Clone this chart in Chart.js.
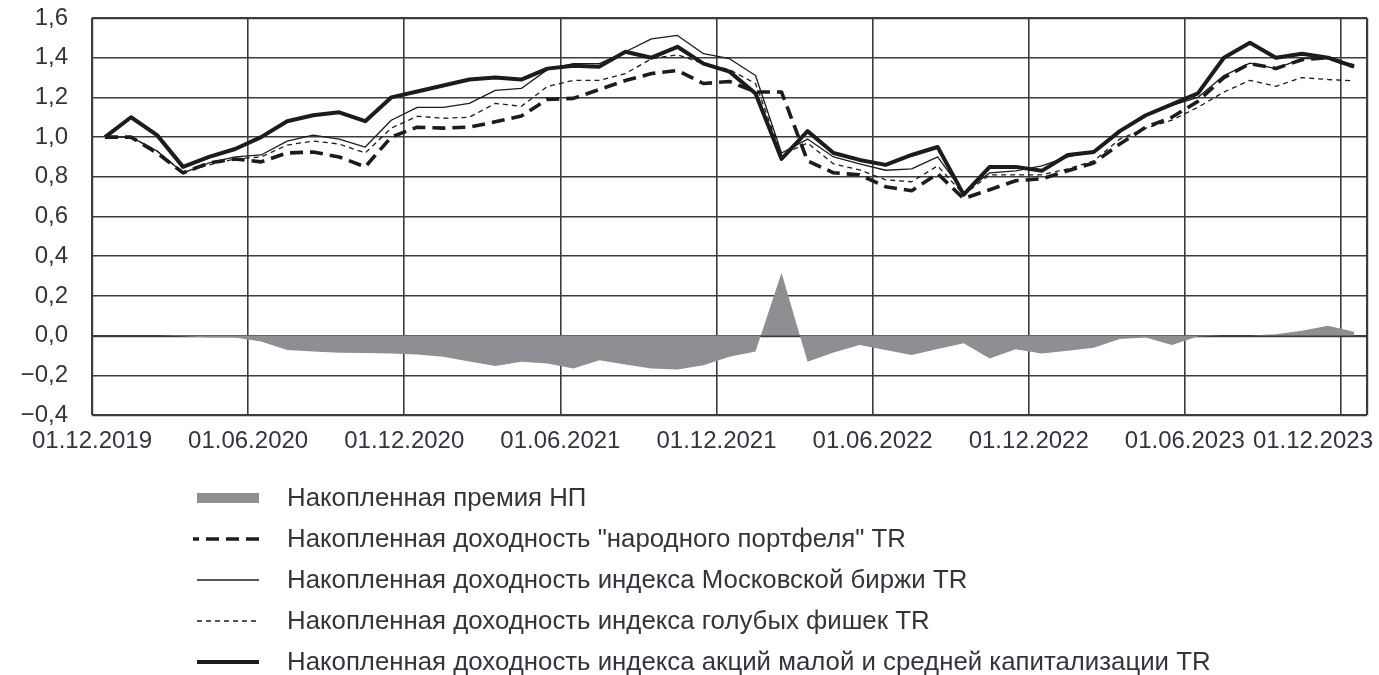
<!DOCTYPE html>
<html lang="ru">
<head>
    <meta charset="UTF-8">
    <title>Накопленная доходность</title>
    <style>
        body {
            margin: 0;
            background: #fff;
            font-family: "Liberation Sans", Arial, sans-serif;
            color: #34343e;
        }

        #wrap {
            position: relative;
            width: 1379px;
            height: 675px;
        }

        #chart {
            position: absolute;
            left: 0;
            top: 0;
        }

        .legend {
            position: absolute;
            left: 193px;
            top: 477px;
        }

        .legend .row {
            display: flex;
            align-items: center;
            height: 41px;
        }

        .legend canvas {
            width: 66px;
            height: 16px;
            margin-right: 28px;
        }

        .legend span {
            font-size: 25.8px;
            white-space: nowrap;
        }
    </style>
</head>
<body>
    <div id="wrap">
        <canvas id="chart" width="1379" height="470"></canvas>
        <div class="legend" id="legend"></div>
    </div>

    <script src="https://cdn.jsdelivr.net/npm/chart.js"></script>
    <script>
        // ticks every 6 months, points are monthly (mid-month)
        const tickLabels = ['01.12.2019', '01.06.2020', '01.12.2020', '01.06.2021', '01.12.2021',
                            '01.06.2022', '01.12.2022', '01.06.2023', '01.12.2023'];

        const premium = [0, 0, 0, -0.003, -0.01, -0.01, -0.03, -0.073, -0.08, -0.086,
                         -0.088, -0.09, -0.095, -0.107, -0.13, -0.153, -0.132, -0.14, -0.166, -0.124,
                         -0.146, -0.166, -0.171, -0.149, -0.107, -0.08, 0.317, -0.132, -0.085, -0.047,
                         -0.073, -0.098, -0.068, -0.039, -0.115, -0.069, -0.09, -0.076, -0.061, -0.017,
                         -0.01, -0.047, -0.005, 0, 0, 0.007, 0.024, 0.05, 0.02];

        const narodny = [1.00, 1.00, 0.92, 0.82, 0.87, 0.89, 0.875, 0.92, 0.925, 0.90,
                         0.85, 1.00, 1.05, 1.045, 1.05, 1.077, 1.106, 1.19, 1.195, 1.24,
                         1.285, 1.32, 1.336, 1.27, 1.28, 1.227, 1.227, 0.88, 0.82, 0.81,
                         0.75, 0.73, 0.816, 0.69, 0.735, 0.78, 0.79, 0.83, 0.87, 0.965,
                         1.05, 1.10, 1.18, 1.30, 1.37, 1.346, 1.39, 1.40, 1.355];

        const moex = [1.00, 1.00, 0.93, 0.82, 0.87, 0.90, 0.91, 0.98, 1.01, 0.99,
                      0.95, 1.085, 1.15, 1.15, 1.17, 1.235, 1.245, 1.34, 1.37, 1.37,
                      1.43, 1.495, 1.512, 1.42, 1.395, 1.31, 0.92, 0.99, 0.90, 0.865,
                      0.833, 0.84, 0.90, 0.72, 0.82, 0.83, 0.855, 0.90, 0.93, 1.03,
                      1.11, 1.16, 1.20, 1.31, 1.373, 1.345, 1.395, 1.395, 1.365];

        const blueChips = [1.00, 1.00, 0.93, 0.82, 0.86, 0.89, 0.90, 0.96, 0.98, 0.965,
                           0.92, 1.045, 1.105, 1.095, 1.10, 1.17, 1.155, 1.255, 1.286, 1.286,
                           1.32, 1.395, 1.415, 1.37, 1.34, 1.27, 0.91, 0.97, 0.865, 0.835,
                           0.785, 0.775, 0.855, 0.71, 0.81, 0.81, 0.81, 0.84, 0.88, 0.99,
                           1.045, 1.085, 1.15, 1.227, 1.286, 1.256, 1.30, 1.29, 1.283];

        const smid = [1.00, 1.10, 1.01, 0.85, 0.90, 0.94, 1.00, 1.08, 1.11, 1.125,
                      1.08, 1.20, 1.23, 1.26, 1.29, 1.30, 1.29, 1.345, 1.36, 1.355,
                      1.43, 1.40, 1.455, 1.37, 1.33, 1.22, 0.89, 1.03, 0.92, 0.885,
                      0.86, 0.91, 0.95, 0.71, 0.85, 0.85, 0.83, 0.91, 0.925, 1.03,
                      1.11, 1.165, 1.22, 1.40, 1.475, 1.40, 1.42, 1.40, 1.355];

        const seriesNames = [
            'Накопленная премия НП',
            'Накопленная доходность "народного портфеля" TR',
            'Накопленная доходность индекса Московской биржи TR',
            'Накопленная доходность индекса голубых фишек TR',
            'Накопленная доходность индекса акций малой и средней капитализации TR'
        ];

        const textColor = '#34343e';
        const lineColor = '#1c1c1c';
        const fillColor = '#8f8f93';
        const fontFamily = '"Liberation Sans", Arial, sans-serif';

        const toPoints = arr => arr.map((v, i) => ({ x: i + 0.5, y: v }));

        // style of each series, shared by chart and legend
        const styles = [
            { fill: true },
            { width: 3.6, dash: [13, 7] },
            { width: 1.3, dash: [] },
            { width: 1.3, dash: [5, 4] },
            { width: 4, dash: [] }
        ];

        const seriesData = [premium, narodny, moex, blueChips, smid];

        const datasets = seriesData.map((arr, k) => {
            const s = styles[k];
            if (s.fill) {
                return {
                    label: seriesNames[k],
                    data: toPoints(arr),
                    fill: 'origin',
                    backgroundColor: fillColor,
                    borderColor: fillColor,
                    borderWidth: 0,
                    pointRadius: 0,
                    order: 10
                };
            }
            return {
                label: seriesNames[k],
                data: toPoints(arr),
                fill: false,
                borderColor: lineColor,
                borderWidth: s.width,
                borderDash: s.dash,
                borderJoinStyle: 'round',
                pointRadius: 0,
                tension: 0,
                order: 5 - k
            };
        });

        // x labels drawn by hand so the last one is pulled inside the canvas
        const xLabels = {
            id: 'xLabels',
            afterDraw(chart) {
                const { ctx, chartArea } = chart;
                const x = chart.scales.x;
                ctx.save();
                ctx.font = '24px ' + fontFamily;
                ctx.fillStyle = textColor;
                ctx.textBaseline = 'middle';
                ctx.textAlign = 'left';
                tickLabels.forEach((t, k) => {
                    const px = x.getPixelForValue(k * 6);
                    const w = ctx.measureText(t).width;
                    let left = px - w / 2;
                    if (left + w > chart.width - 6) left = chart.width - 6 - w;
                    ctx.fillText(t, left, chartArea.bottom + 26);
                });
                ctx.restore();
            }
        };

        const lastMonth = premium.length;

        new Chart(document.getElementById('chart'), {
            type: 'line',
            data: { datasets: datasets },
            options: {
                responsive: false,
                animation: false,
                layout: { padding: { top: 18, right: 12, left: 0, bottom: 0 } },
                plugins: {
                    legend: { display: false },
                    tooltip: { enabled: false }
                },
                scales: {
                    x: {
                        type: 'linear',
                        min: 0,
                        max: lastMonth,
                        afterBuildTicks: scale => {
                            const t = [];
                            for (let v = 0; v < lastMonth; v += 6) t.push({ value: v });
                            t.push({ value: lastMonth });
                            scale.ticks = t;
                        },
                        afterFit: scale => {
                            scale.height = 55;
                            scale.paddingLeft = 0;
                            scale.paddingRight = 0;
                        },
                        ticks: { display: false },
                        border: { display: false },
                        grid: {
                            color: '#3c3c3c',
                            drawTicks: false,
                            lineWidth: c => (c.tick && (c.tick.value === 0 || c.tick.value === lastMonth)) ? 2.2 : 1.6
                        }
                    },
                    y: {
                        min: -0.4,
                        max: 1.6,
                        afterFit: scale => {
                            scale.width = 92;
                            scale.paddingTop = 0;
                            scale.paddingBottom = 0;
                        },
                        ticks: {
                            stepSize: 0.2,
                            padding: 24,
                            color: textColor,
                            font: { family: fontFamily, size: 24 },
                            callback: v => v.toFixed(1).replace('.', ',').replace('-', '\u2212')
                        },
                        border: { display: false },
                        grid: {
                            color: '#3c3c3c',
                            drawTicks: false,
                            lineWidth: c => {
                                const v = c.tick ? Math.round(c.tick.value * 10) : 1;
                                return (v === 0 || v === -4 || v === 16) ? 2.2 : 1.6;
                            }
                        }
                    }
                }
            },
            plugins: [xLabels]
        });

        // legend below the chart
        const legend = document.getElementById('legend');
        seriesNames.forEach((name, k) => {
            const row = document.createElement('div');
            row.className = 'row';
            const c = document.createElement('canvas');
            c.width = 66;
            c.height = 16;
            const g = c.getContext('2d');
            const s = styles[k];
            if (s.fill) {
                g.fillStyle = fillColor;
                g.fillRect(4, 3, 62, 10);
            } else {
                g.strokeStyle = lineColor;
                g.lineWidth = s.width;
                g.setLineDash(s.dash);
                if (k === 1) g.lineDashOffset = 7;
                g.beginPath();
                g.moveTo(k === 1 ? 0 : 4, 8);
                g.lineTo(66, 8);
                g.stroke();
            }
            const span = document.createElement('span');
            span.textContent = name;
            row.appendChild(c);
            row.appendChild(span);
            legend.appendChild(row);
        });
    </script>
</body>
</html>
